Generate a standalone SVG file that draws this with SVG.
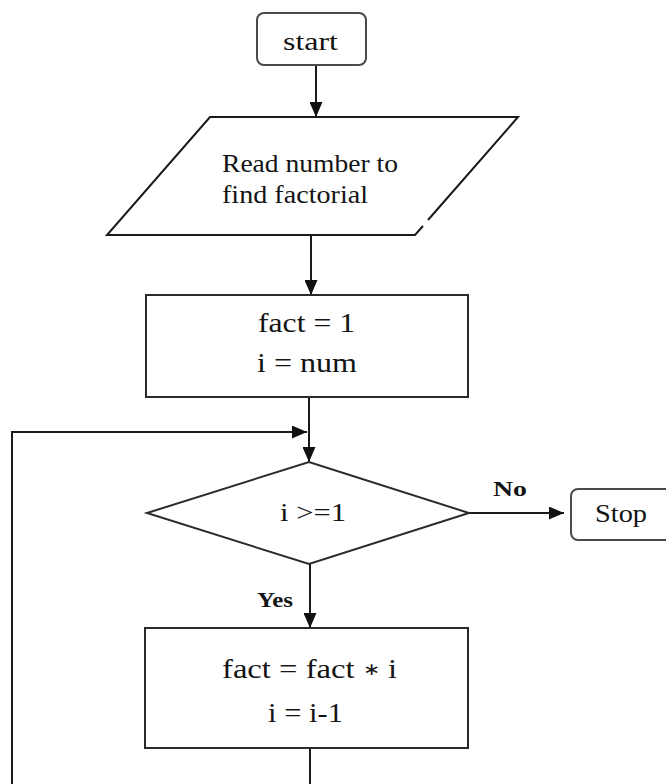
<svg xmlns="http://www.w3.org/2000/svg" width="666" height="784" viewBox="0 0 666 784">
  <style>
    .txt { font-family: "Liberation Serif", "Times New Roman", serif; fill: #141414; }
    .lbl { font-family: "Liberation Serif", "Times New Roman", serif; fill: #141414; font-weight: bold; }
    .term { fill: #ffffff; stroke: #4a4a4a; stroke-width: 2; }
    .shape { fill: #ffffff; stroke: #2a2a2a; stroke-width: 2; }
    .edge { fill: none; stroke: #1a1a1a; stroke-width: 2; }
  </style>
  <defs>
    <marker id="arrow" viewBox="0 0 15 13" refX="15" refY="6.5" markerWidth="15" markerHeight="13" markerUnits="userSpaceOnUse" orient="auto">
      <path d="M0,0 L15,6.5 L0,13 Z" fill="#111111"/>
    </marker>
  </defs>
  <rect width="666" height="784" fill="#ffffff"/>

  <!-- connectors -->
  <g id="connectors">
    <line class="edge" x1="316" y1="65" x2="316" y2="117" marker-end="url(#arrow)"/>
    <line class="edge" x1="311" y1="236" x2="311" y2="295" marker-end="url(#arrow)"/>
    <line class="edge" x1="309" y1="397" x2="309" y2="462" marker-end="url(#arrow)"/>
    <line class="edge" x1="469" y1="513" x2="564" y2="513" marker-end="url(#arrow)"/>
    <line class="edge" x1="310" y1="564" x2="310" y2="628" marker-end="url(#arrow)"/>
    <!-- loop back from the body to the test -->
    <polyline class="edge" points="310,748 310,790"/>
    <polyline class="edge" points="12,790 12,432 307,432" marker-end="url(#arrow)"/>
    <text class="lbl" x="493" y="496" font-size="20" textLength="34" lengthAdjust="spacingAndGlyphs">No</text>
    <text class="lbl" x="257" y="607" font-size="20" textLength="36" lengthAdjust="spacingAndGlyphs">Yes</text>
  </g>

  <!-- start terminal -->
  <g id="start">
    <rect class="term" x="257" y="13" width="109" height="52" rx="7"/>
    <text class="txt" x="283" y="50" font-size="26" textLength="55" lengthAdjust="spacingAndGlyphs">start</text>
  </g>

  <!-- input parallelogram -->
  <g id="read">
    <polygon points="210,117 518,117 415,235 107,235" fill="#ffffff" stroke="none"/>
    <path class="edge" d="M423,226 L415,235 L107,235 L210,117 L518,117 L428,220" stroke="#2a2a2a"/>
    <text class="txt" x="222" y="172" font-size="25" textLength="176" lengthAdjust="spacingAndGlyphs">Read number to</text>
    <text class="txt" x="222" y="203" font-size="25" textLength="146" lengthAdjust="spacingAndGlyphs">find factorial</text>
  </g>

  <!-- initialisation -->
  <g id="init">
    <rect class="shape" x="146" y="295" width="322" height="102"/>
    <text class="txt" x="258" y="332" font-size="27" textLength="97" lengthAdjust="spacingAndGlyphs">fact = 1</text>
    <text class="txt" x="257" y="372" font-size="27" textLength="100" lengthAdjust="spacingAndGlyphs">i = num</text>
  </g>

  <!-- loop test -->
  <g id="test">
    <polygon class="shape" points="147,513 309,462 469,513 309,564"/>
    <text class="txt" x="280" y="521" font-size="26" textLength="66" lengthAdjust="spacingAndGlyphs">i &gt;=1</text>
  </g>

  <!-- stop terminal -->
  <g id="stop">
    <rect class="term" x="571" y="489" width="110" height="51" rx="7"/>
    <text class="txt" x="595" y="522" font-size="25" textLength="52" lengthAdjust="spacingAndGlyphs">Stop</text>
  </g>

  <!-- loop body -->
  <g id="body">
    <rect class="shape" x="145" y="628" width="323" height="120"/>
    <text class="txt" x="222" y="678" font-size="27" textLength="175" lengthAdjust="spacingAndGlyphs">fact = fact <tspan font-size="17" dy="-3">∗</tspan><tspan dy="3"> i</tspan></text>
    <text class="txt" x="268" y="722" font-size="27" textLength="75" lengthAdjust="spacingAndGlyphs">i = i-1</text>
  </g>
</svg>
